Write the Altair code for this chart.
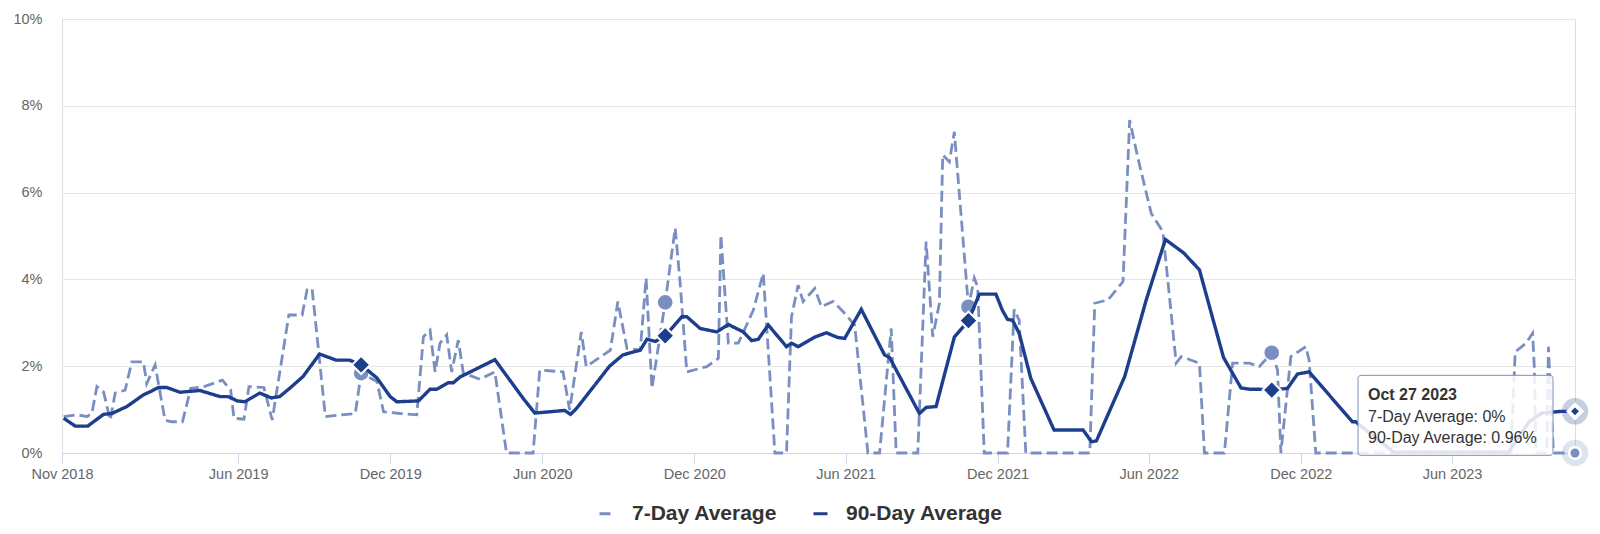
import altair as alt
import pandas as pd

C7 = "#7b8ec2"
C90 = "#1d3e8c"
FONT = "Liberation Sans"

series_names = ["7-Day Average", "90-Day Average"]

dates_90 = ["2018-11-03", "2018-11-17", "2018-12-02", "2018-12-09", "2018-12-21", "2018-12-31",
            "2019-01-18", "2019-02-07", "2019-02-15", "2019-02-25", "2019-03-07", "2019-03-23",
            "2019-04-16", "2019-05-10", "2019-05-20", "2019-05-31", "2019-06-09", "2019-06-27",
            "2019-07-11", "2019-07-21", "2019-08-02", "2019-08-18", "2019-09-07", "2019-09-27",
            "2019-10-13", "2019-10-27", "2019-11-15", "2019-12-01", "2019-12-09", "2020-01-04",
            "2020-01-18", "2020-01-26", "2020-02-09", "2020-02-15", "2020-02-23", "2020-04-05",
            "2020-05-09", "2020-05-23", "2020-06-28", "2020-07-05", "2020-07-12", "2020-08-21",
            "2020-09-06", "2020-09-27", "2020-10-05", "2020-10-15", "2020-10-27", "2020-11-16",
            "2020-11-22", "2020-12-08", "2020-12-28", "2021-01-11", "2021-01-29", "2021-02-08",
            "2021-02-16", "2021-02-28", "2021-03-22", "2021-03-28", "2021-04-05", "2021-04-25",
            "2021-05-09", "2021-05-23", "2021-05-31", "2021-06-20", "2021-07-18", "2021-07-24",
            "2021-08-29", "2021-09-06", "2021-09-18", "2021-10-10", "2021-10-27", "2021-11-09",
            "2021-11-29", "2021-12-07", "2021-12-13", "2021-12-19", "2021-12-27", "2022-01-10",
            "2022-01-18", "2022-02-07", "2022-03-14", "2022-03-24", "2022-03-30", "2022-05-03",
            "2022-05-29", "2022-06-21", "2022-07-13", "2022-08-01", "2022-08-17", "2022-08-30",
            "2022-09-20", "2022-09-30", "2022-10-12", "2022-10-27", "2022-11-15", "2022-11-27",
            "2022-12-11", "2023-02-01", "2023-02-05", "2023-03-09", "2023-03-23", "2023-08-08",
            "2023-09-02", "2023-09-17", "2023-10-11", "2023-10-27"]
values_90 = [0.80, 0.62, 0.62, 0.72, 0.89, 0.91,
             1.07, 1.34, 1.41, 1.51, 1.51, 1.40,
             1.44, 1.30, 1.30, 1.20, 1.18, 1.38,
             1.27, 1.30, 1.49, 1.76, 2.28, 2.14,
             2.14, 2.03, 1.73, 1.30, 1.18, 1.20,
             1.47, 1.47, 1.62, 1.62, 1.75, 2.15,
             1.26, 0.92, 0.98, 0.89, 1.02, 2.00,
             2.26, 2.37, 2.62, 2.57, 2.70, 3.14,
             3.14, 2.87, 2.79, 2.96, 2.79, 2.59,
             2.62, 2.95, 2.45, 2.53, 2.45, 2.67,
             2.77, 2.66, 2.64, 3.31, 2.26, 2.20,
             0.91, 1.05, 1.07, 2.67, 3.05, 3.66,
             3.66, 3.28, 3.08, 3.06, 2.76, 1.72,
             1.38, 0.53, 0.53, 0.26, 0.28, 1.76,
             3.53, 4.92, 4.61, 4.22, 3.10, 2.20,
             1.50, 1.47, 1.47, 1.45, 1.49, 1.82,
             1.87, 0.72, 0.72, 0.23, 0.02, 0.02,
             0.72, 0.92, 0.96, 0.96]

dates_7 = ["2018-11-03", "2018-11-19", "2018-12-01", "2018-12-07", "2018-12-13", "2018-12-21",
           "2018-12-29", "2019-01-04", "2019-01-16", "2019-01-24", "2019-02-07", "2019-02-11",
           "2019-02-21", "2019-03-05", "2019-03-13", "2019-03-26", "2019-04-05", "2019-04-21",
           "2019-05-13", "2019-05-23", "2019-05-27", "2019-06-08", "2019-06-14", "2019-07-02",
           "2019-07-12", "2019-08-01", "2019-08-17", "2019-08-23", "2019-08-29", "2019-09-14",
           "2019-10-20", "2019-10-27", "2019-11-15", "2019-11-23", "2019-12-13", "2020-01-02",
           "2020-01-10", "2020-01-18", "2020-01-24", "2020-01-30", "2020-02-07", "2020-02-13",
           "2020-02-21", "2020-02-27", "2020-03-18", "2020-04-05", "2020-04-19", "2020-05-21",
           "2020-05-29", "2020-06-26", "2020-07-04", "2020-07-18", "2020-07-24", "2020-08-22",
           "2020-08-31", "2020-09-11", "2020-09-27", "2020-10-04", "2020-10-11", "2020-10-27",
           "2020-11-08", "2020-11-14", "2020-11-22", "2020-12-16", "2020-12-30", "2021-01-02",
           "2021-01-11", "2021-01-23", "2021-02-10", "2021-02-22", "2021-03-08", "2021-03-22",
           "2021-03-28", "2021-04-05", "2021-04-11", "2021-04-25", "2021-05-03", "2021-05-17",
           "2021-05-29", "2021-06-12", "2021-06-28", "2021-07-12", "2021-07-26", "2021-08-01",
           "2021-08-27", "2021-09-06", "2021-09-14", "2021-09-22", "2021-09-26", "2021-10-04",
           "2021-10-10", "2021-10-27", "2021-11-03", "2021-11-07", "2021-11-15", "2021-12-13",
           "2021-12-21", "2021-12-27", "2022-01-04", "2022-03-22", "2022-03-28", "2022-04-13",
           "2022-05-01", "2022-05-09", "2022-05-19", "2022-06-04", "2022-06-18", "2022-07-04",
           "2022-07-10", "2022-08-01", "2022-08-07", "2022-08-31", "2022-09-10", "2022-09-30",
           "2022-10-12", "2022-10-27", "2022-11-03", "2022-11-07", "2022-11-19", "2022-12-07",
           "2022-12-11", "2022-12-19", "2023-08-11", "2023-08-16", "2023-08-29", "2023-09-06",
           "2023-09-08", "2023-09-10", "2023-09-23", "2023-09-25", "2023-10-01", "2023-10-27"]
values_7 = [0.84, 0.88, 0.84, 0.91, 1.53, 1.41,
            0.76, 1.38, 1.45, 2.10, 2.10, 1.60,
            2.03, 0.76, 0.72, 0.72, 1.49, 1.53,
            1.68, 1.45, 0.80, 0.78, 1.53, 1.51,
            0.76, 3.18, 3.18, 3.76, 3.79, 0.84,
            0.91, 1.84, 1.65, 0.95, 0.91, 0.88,
            2.68, 2.83, 1.87, 2.53, 2.72, 1.87,
            2.60, 1.84, 1.70, 1.87, 0.0, 0.0,
            1.91, 1.87, 0.99, 2.79, 1.99, 2.37,
            3.49, 2.41, 2.37, 4.03, 1.49, 3.47,
            5.18, 3.91, 1.87, 1.99, 2.18, 5.02,
            2.53, 2.53, 3.29, 4.14, 0.0, 0.0,
            3.14, 3.87, 3.49, 3.79, 3.37, 3.49,
            3.26, 2.95, 0.0, 0.0, 2.87, 0.0,
            0.0, 4.87, 2.68, 3.45, 6.87, 6.71,
            7.40, 3.37, 4.03, 3.83, 0.0, 0.0,
            3.31, 3.06, 0.0, 0.0, 3.45, 3.53,
            3.95, 7.67, 6.79, 5.52, 5.10, 2.07,
            2.22, 2.07, 0.0, 0.0, 2.07, 2.07,
            1.99, 2.31, 1.91, 0.0, 2.22, 2.45,
            2.14, 0.0, 0.0, 2.33, 2.53, 2.76,
            1.99, 0.0, 0.0, 2.45, 0.0, 0.0]

marker_dates = ["2019-10-27", "2020-10-27", "2021-10-27", "2022-10-27"]
marker_7 = [1.84, 3.47, 3.37, 2.31]
marker_90 = [2.03, 2.70, 3.05, 1.45]

hover_date = "2023-10-27"
hover_7 = 0.0
hover_90 = 0.96
tooltip_lines = ["Oct 27 2023", "7-Day Average: 0%", "90-Day Average: 0.96%"]

y_ticks = [0, 2, 4, 6, 8, 10]
x_tick_months = [(2018, 11), (2019, 6), (2019, 12), (2020, 6), (2020, 12), (2021, 6),
                 (2021, 12), (2022, 6), (2022, 12), (2023, 6)]

df7 = pd.DataFrame({"date": dates_7, "value": values_7, "series": series_names[0]})
df90 = pd.DataFrame({"date": dates_90, "value": values_90, "series": series_names[1]})
dfm7 = pd.DataFrame({"date": marker_dates, "value": marker_7})
dfm90 = pd.DataFrame({"date": marker_dates, "value": marker_90})
dfh7 = pd.DataFrame({"date": [hover_date], "value": [hover_7]})
dfh90 = pd.DataFrame({"date": [hover_date], "value": [hover_90]})

x_enc = alt.X(
    "date:T",
    scale=alt.Scale(type="utc", domain=[alt.DateTime(year=2018, month=11, date=1, utc=True),
                                        alt.DateTime(year=2023, month=10, date=27, utc=True)]),
    axis=alt.Axis(
        values=[alt.DateTime(year=y, month=m, date=1, utc=True) for y, m in x_tick_months],
        labelExpr="utcFormat(datum.value, '%b %Y')", title=None, grid=False,
        domainColor="#ccd6eb", tickColor="#ccd6eb", tickSize=10, labelPadding=4,
        labelFont=FONT, labelFontSize=14.5, labelColor="#666666",
        labelFlush=False, labelOverlap=False,
    ),
)
y_enc = alt.Y(
    "value:Q",
    scale=alt.Scale(domain=[0, 10], nice=False),
    axis=alt.Axis(
        values=y_ticks, labelExpr="datum.value + '%'", title=None,
        grid=True, gridColor="#e6e6e6", domain=False, ticks=False, tickSize=0,
        labelPadding=20, labelFont=FONT, labelFontSize=14.5, labelColor="#666666",
    ),
)

legend_def = alt.Legend(
    title=None, orient="none", legendX=534, legendY=484, direction="horizontal",
    symbolType="stroke", symbolSize=196, symbolStrokeWidth=3,
    labelFont=FONT, labelFontSize=21, labelFontWeight="bold", labelColor="#333333",
    labelOffset=15, columnPadding=29, padding=0,
)
color_enc = alt.Color("series:N", scale=alt.Scale(domain=series_names, range=[C7, C90]), legend=legend_def)
dash_enc = alt.StrokeDash("series:N", scale=alt.Scale(domain=series_names, range=[[11, 5], [1, 0]]),
                          legend=legend_def)

line7 = alt.Chart(df7).mark_line(strokeWidth=2.8).encode(x=x_enc, y=y_enc, color=color_enc, strokeDash=dash_enc)
pts7 = alt.Chart(dfm7).mark_point(shape="circle", filled=True, fill=C7, stroke="white",
                                  strokeWidth=1.5, size=260, opacity=1).encode(x=x_enc, y=y_enc)
line90 = alt.Chart(df90).mark_line(strokeWidth=3.4).encode(x=x_enc, y=y_enc, color=color_enc, strokeDash=dash_enc)
pts90 = alt.Chart(dfm90).mark_point(shape="diamond", filled=True, fill=C90, stroke="white",
                                    strokeWidth=2, size=330, opacity=1).encode(x=x_enc, y=y_enc)

tip_box = alt.Chart(dfh90).mark_rect(
    fill="white", fillOpacity=0.85, stroke=C7, strokeWidth=1, cornerRadius=3,
    xOffset=-217, x2Offset=-22, yOffset=-36, y2Offset=44,
).encode(x=x_enc, x2=alt.X2("date:T"), y=y_enc, y2=alt.Y2("value:Q"))

tip_texts = []
for i, (txt, dy) in enumerate(zip(tooltip_lines, [-16, 6, 27])):
    tip_texts.append(
        alt.Chart(dfh90).mark_text(
            text=txt, align="left", baseline="middle", dx=-207, dy=dy,
            font=FONT, fontSize=16, fontWeight="bold" if i == 0 else "normal", color="#333333",
        ).encode(x=x_enc, y=y_enc)
    )

halo7 = alt.Chart(dfh7).mark_point(shape="circle", filled=True, fill=C7, opacity=0.25, size=700,
                                   strokeWidth=0).encode(x=x_enc, y=y_enc)
white7 = alt.Chart(dfh7).mark_point(shape="circle", filled=True, fill="white", opacity=1, size=210,
                                    strokeWidth=0).encode(x=x_enc, y=y_enc)
dot7 = alt.Chart(dfh7).mark_point(shape="circle", filled=True, fill=C7, opacity=1, size=80,
                                  strokeWidth=0).encode(x=x_enc, y=y_enc)
halo90 = alt.Chart(dfh90).mark_point(shape="circle", filled=True, fill=C90, opacity=0.25, size=700,
                                     strokeWidth=0).encode(x=x_enc, y=y_enc)
white90 = alt.Chart(dfh90).mark_point(shape="diamond", filled=True, fill="white", opacity=1, size=330,
                                      strokeWidth=0).encode(x=x_enc, y=y_enc)
dot90 = alt.Chart(dfh90).mark_point(shape="diamond", filled=True, fill=C90, opacity=1, size=60,
                                    strokeWidth=0).encode(x=x_enc, y=y_enc)

chart = alt.layer(
    line7, pts7, line90, pts90, tip_box, *tip_texts,
    halo7, white7, dot7, halo90, white90, dot90,
).properties(
    width=1513, height=434,
    autosize=alt.AutoSizeParams(type="none"),
    padding={"left": 54, "top": 11, "right": 17, "bottom": 72},
).configure_view(stroke=None).configure(font=FONT)

chart.save("out.html", embed_options={"renderer": "svg", "actions": False})
